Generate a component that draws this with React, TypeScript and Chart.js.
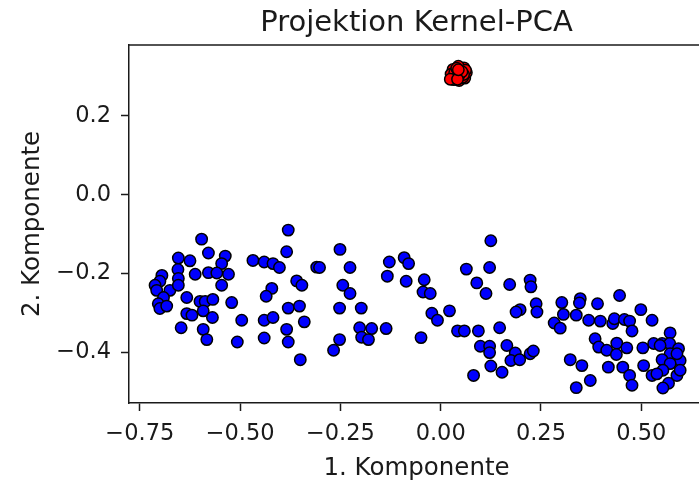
import { useEffect, useRef } from "react";
import { Chart, registerables } from "chart.js";

Chart.register(...registerables);

// Projected samples (first and second kernel-PCA component)
const blueX = [
  -0.380, -0.596, -0.579, -0.384, -0.654, -0.625, -0.537, -0.546, -0.468, -0.440,
  -0.418, -0.402, -0.309, -0.655, -0.695, -0.700, -0.612, -0.579, -0.558, -0.529,
  -0.654, -0.712, -0.708, -0.675, -0.654, -0.546, -0.359, -0.346, -0.421, -0.435,
  -0.691, -0.633, -0.600, -0.587, -0.568, -0.521, -0.704, -0.700, -0.683, -0.633,
  -0.620, -0.592, -0.569, -0.496, -0.440, -0.418, -0.380, -0.352, -0.340, -0.647,
  -0.592, -0.384, -0.583, -0.507, -0.440, -0.380, -0.350, 0.125, -0.251, -0.302,
  -0.226, -0.128, -0.091, -0.080, -0.133, -0.086, 0.064, 0.122, -0.244, -0.226,
  -0.041, -0.044, -0.026, 0.090, 0.113, -0.252, -0.198, -0.022, -0.008, 0.022,
  -0.202, -0.172, -0.136, -0.197, -0.180, -0.252, -0.267, -0.049, 0.042, 0.059,
  0.094, 0.147, 0.099, 0.122, 0.122, 0.125, 0.082, 0.172, 0.223, 0.225,
  0.198, 0.188, 0.238, 0.240, 0.302, 0.348, 0.346, 0.391, 0.446, 0.499,
  0.527, 0.306, 0.338, 0.283, 0.298, 0.369, 0.398, 0.429, 0.433, 0.458,
  0.471, 0.477, 0.385, 0.394, 0.414, 0.439, 0.464, 0.438, 0.418, 0.454,
  0.471, 0.477, 0.504, 0.506, 0.527, 0.531, 0.552, 0.572, 0.571, 0.593,
  0.572, 0.597, 0.552, 0.572, 0.554, 0.589, 0.568, 0.554, 0.323, 0.352,
  0.373, 0.338, 0.165, 0.186, 0.175, 0.197, 0.223, 0.231, 0.153, 0.547,
  0.589, 0.597, 0.539,
];
const blueY = [
  -0.090, -0.113, -0.148, -0.145, -0.161, -0.168, -0.156, -0.175, -0.167, -0.171,
  -0.175, -0.185, -0.184, -0.190, -0.205, -0.220, -0.202, -0.198, -0.199, -0.202,
  -0.213, -0.230, -0.243, -0.243, -0.230, -0.230, -0.219, -0.230, -0.238, -0.258,
  -0.261, -0.261, -0.271, -0.271, -0.266, -0.274, -0.277, -0.289, -0.283, -0.302,
  -0.306, -0.295, -0.312, -0.319, -0.319, -0.312, -0.288, -0.283, -0.323, -0.338,
  -0.342, -0.342, -0.368, -0.374, -0.364, -0.374, -0.419, -0.117, -0.139, -0.185,
  -0.185, -0.171, -0.160, -0.175, -0.207, -0.220, -0.189, -0.185, -0.230, -0.251,
  -0.216, -0.247, -0.251, -0.224, -0.251, -0.288, -0.288, -0.301, -0.319, -0.295,
  -0.338, -0.340, -0.340, -0.362, -0.368, -0.368, -0.395, -0.363, -0.346, -0.346,
  -0.346, -0.338, -0.385, -0.385, -0.401, -0.435, -0.459, -0.228, -0.217, -0.234,
  -0.292, -0.298, -0.277, -0.298, -0.274, -0.264, -0.275, -0.277, -0.256, -0.292,
  -0.319, -0.304, -0.306, -0.326, -0.339, -0.319, -0.321, -0.327, -0.315, -0.317,
  -0.321, -0.346, -0.366, -0.387, -0.395, -0.377, -0.389, -0.406, -0.438, -0.438,
  -0.459, -0.484, -0.389, -0.434, -0.459, -0.378, -0.378, -0.351, -0.378, -0.391,
  -0.404, -0.421, -0.419, -0.429, -0.446, -0.459, -0.479, -0.491, -0.419, -0.434,
  -0.472, -0.490, -0.383, -0.402, -0.421, -0.419, -0.404, -0.397, -0.451, -0.383,
  -0.404, -0.446, -0.455,
];

// Tight group of samples far above the rest
const redX = [
  0.030, 0.046, 0.060, 0.064, 0.058, 0.044, 0.031, 0.026, 0.038, 0.052,
  0.048, 0.035, 0.055, 0.062, 0.040, 0.050, 0.033, 0.057, 0.045, 0.039,
  0.053, 0.024, 0.042, 0.044,
];
const redY = [
  0.296, 0.290, 0.296, 0.310, 0.322, 0.326, 0.318, 0.306, 0.300, 0.304,
  0.314, 0.310, 0.298, 0.316, 0.321, 0.309, 0.292, 0.305, 0.302, 0.296,
  0.312, 0.293, 0.293, 0.317,
];

const xTicks = [-0.75, -0.5, -0.25, 0, 0.25, 0.5];
const yTicks = [-0.4, -0.2, 0.0, 0.2];

const titleText = "Projektion Kernel-PCA";
const xLabel = "1. Komponente";
const yLabel = "2. Komponente";

const FONT = "'DejaVu Sans', 'Liberation Sans', sans-serif";
const INK = "#1a1a1a";

const fmt = (v: number, digits: number) =>
  (v < -1e-9 ? "\u2212" : "") + Math.abs(v).toFixed(digits);

// Title, axis captions and the top spine
const decorations = {
  id: "decorations",
  afterDraw(chart: Chart) {
    const { ctx, chartArea } = chart;
    const cx = (chartArea.left + 704) / 2;
    ctx.save();
    ctx.strokeStyle = INK;
    ctx.lineWidth = 1.5;
    ctx.beginPath();
    ctx.moveTo(chartArea.left - 0.75, chartArea.top);
    ctx.lineTo(chartArea.right, chartArea.top);
    ctx.stroke();

    ctx.fillStyle = INK;
    ctx.textAlign = "center";
    ctx.textBaseline = "alphabetic";
    ctx.font = `29px ${FONT}`;
    ctx.fillText(titleText, cx, 31);

    ctx.font = `24.5px ${FONT}`;
    ctx.fillText(xLabel, cx, 475);

    ctx.translate(39, (chartArea.top + chartArea.bottom) / 2);
    ctx.rotate(-Math.PI / 2);
    ctx.fillText(yLabel, 0, 0);
    ctx.restore();
  },
};

export default function App() {
  const canvasRef = useRef<HTMLCanvasElement | null>(null);

  useEffect(() => {
    const canvas = canvasRef.current;
    if (!canvas) return;

    const pointStyle = {
      pointRadius: 5.7,
      pointHoverRadius: 5.7,
      pointBorderWidth: 1.5,
      pointBorderColor: "#000000",
    };

    const chart = new Chart(canvas, {
      type: "scatter",
      data: {
        datasets: [
          {
            label: "rot",
            data: redX.map((x, i) => ({ x, y: redY[i] })),
            pointBackgroundColor: "#ff0000",
            ...pointStyle,
          },
          {
            label: "blau",
            data: blueX.map((x, i) => ({ x, y: blueY[i] })),
            pointBackgroundColor: "#0000ff",
            ...pointStyle,
          },
        ],
      },
      options: {
        responsive: false,
        animation: false,
        devicePixelRatio: 1,
        layout: { autoPadding: false, padding: { top: 45, left: 0, right: 0, bottom: 0 } },
        plugins: {
          legend: { display: false },
          tooltip: { enabled: false },
          title: { display: false },
        },
        scales: {
          x: {
            type: "linear",
            min: -0.777,
            max: 0.644,
            afterBuildTicks: (scale: any) => {
              scale.ticks = xTicks.map((value) => ({ value }));
            },
            afterFit: (scale: any) => {
              scale.height = 79;
            },
            ticks: {
              autoSkip: false,
              maxRotation: 0,
              padding: 10,
              color: INK,
              font: { family: FONT, size: 22.5 },
              callback: (v: any) => fmt(Number(v), 2),
            },
            grid: {
              display: true,
              drawOnChartArea: false,
              drawTicks: true,
              tickLength: 8,
              tickWidth: 1.5,
              tickColor: INK,
            },
            border: { display: true, color: INK, width: 1.5 },
          },
          y: {
            type: "linear",
            min: -0.529,
            max: 0.38,
            afterBuildTicks: (scale: any) => {
              scale.ticks = yTicks.map((value) => ({ value }));
            },
            afterFit: (scale: any) => {
              scale.width = 129;
            },
            ticks: {
              autoSkip: false,
              padding: 10,
              color: INK,
              font: { family: FONT, size: 22.5 },
              callback: (v: any) => fmt(Number(v), 1),
            },
            grid: {
              display: true,
              drawOnChartArea: false,
              drawTicks: true,
              tickLength: 8,
              tickWidth: 1.5,
              tickColor: INK,
            },
            border: { display: true, color: INK, width: 1.5 },
          },
        },
      },
      plugins: [decorations],
    });

    return () => chart.destroy();
  }, []);

  return (
    <div style={{ position: "fixed", left: 0, top: 0, width: 699, height: 482, background: "#ffffff" }}>
      <canvas ref={canvasRef} width={699} height={482} style={{ width: 699, height: 482, display: "block" }} />
    </div>
  );
}
